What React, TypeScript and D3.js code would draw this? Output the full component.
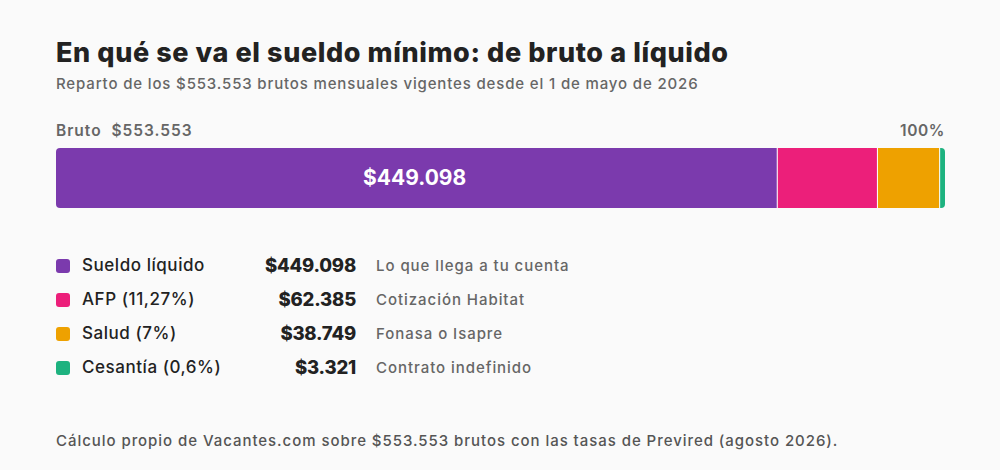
import { useEffect, useRef } from 'react';
import * as d3 from 'd3';

const gross = 553553;
const categories = ['Sueldo líquido', 'AFP (11,27%)', 'Salud (7%)', 'Cesantía (0,6%)'];
const amounts = [449098, 62385, 38749, 3321];
const notes = ['Lo que llega a tu cuenta', 'Cotización Habitat', 'Fonasa o Isapre', 'Contrato indefinido'];
const colors = ['#7B3AAD', '#EC1F7A', '#EEA100', '#1DB27F'];

const fmt = (v: number) => '$' + d3.format(',')(v).replace(/,/g, '.');
const FONT = 'Inter, "Open Sans", sans-serif';

export default function App() {
  const svgRef = useRef<SVGSVGElement>(null);

  useEffect(() => {
    if (!svgRef.current) return;
    const svg = d3.select(svgRef.current);
    svg.selectAll('*').remove();

    const W = 1000;
    const H = 470;
    const left = 56;
    const right = 945;

    svg.append('rect').attr('width', W).attr('height', H).attr('fill', '#FAFAFA');

    // Title + subtitle
    svg.append('text')
      .attr('x', left).attr('y', 62)
      .style('font-family', FONT).style('font-size', '27px').style('font-weight', '800')
      .style('letter-spacing', '0.6px')
      .style('fill', '#222').text('En qué se va el sueldo mínimo: de bruto a líquido');

    svg.append('text')
      .attr('x', left).attr('y', 89)
      .style('font-family', FONT).style('font-size', '15px').style('font-weight', '500')
      .style('letter-spacing', '0.85px')
      .style('fill', '#666').text('Reparto de los $553.553 brutos mensuales vigentes desde el 1 de mayo de 2026');

    // Bar header
    svg.append('text')
      .attr('x', left).attr('y', 136)
      .attr('xml:space', 'preserve')
      .style('font-family', FONT).style('font-size', '15.5px').style('font-weight', '600')
      .style('letter-spacing', '1px')
      .style('fill', '#666').text(`Bruto  ${fmt(gross)}`);

    svg.append('text')
      .attr('x', right).attr('y', 136).attr('text-anchor', 'end')
      .style('font-family', FONT).style('font-size', '15.5px').style('font-weight', '600')
      .style('letter-spacing', '0.6px')
      .style('fill', '#666').text('100%');

    // Stacked bar
    const x = d3.scaleLinear().domain([0, gross]).range([left, right]);
    const starts = d3.cumsum([0, ...amounts.slice(0, -1)]);
    const barY = 148;
    const barH = 60;

    const clipId = 'bar-clip';
    svg.append('clipPath').attr('id', clipId)
      .append('rect')
      .attr('x', left).attr('y', barY).attr('width', right - left).attr('height', barH)
      .attr('rx', 4);

    const g = svg.append('g').attr('clip-path', `url(#${clipId})`);
    g.selectAll('rect.seg')
      .data(amounts)
      .join('rect')
      .attr('class', 'seg')
      .attr('x', (_, i) => x(starts[i]))
      .attr('y', barY)
      .attr('width', (d) => x(d) - x(0))
      .attr('height', barH)
      .attr('fill', (_, i) => colors[i]);

    g.selectAll('line.sep')
      .data(amounts.slice(1))
      .join('line')
      .attr('class', 'sep')
      .attr('x1', (_, i) => x(starts[i + 1]))
      .attr('x2', (_, i) => x(starts[i + 1]))
      .attr('y1', barY).attr('y2', barY + barH)
      .attr('stroke', '#fff').attr('stroke-width', 1);

    svg.append('text')
      .attr('x', (x(0) + x(amounts[0])) / 2 - 2)
      .attr('y', barY + barH / 2 + 1)
      .attr('text-anchor', 'middle').attr('dominant-baseline', 'middle')
      .style('font-family', FONT).style('font-size', '21px').style('font-weight', '700')
      .style('fill', '#fff').text(fmt(amounts[0]));

    // Legend table
    const y = d3.scalePoint<number>().domain(d3.range(categories.length)).range([266, 368]);
    const rows = svg.selectAll('g.row')
      .data(categories)
      .join('g')
      .attr('class', 'row')
      .attr('transform', (_, i) => `translate(0,${y(i)})`);

    rows.append('rect')
      .attr('x', 56).attr('y', -7).attr('width', 14).attr('height', 14).attr('rx', 3)
      .attr('fill', (_, i) => colors[i]);

    rows.append('text')
      .attr('x', 82).attr('y', 0).attr('dominant-baseline', 'middle')
      .style('font-family', FONT).style('font-size', '17px').style('font-weight', '500')
      .style('letter-spacing', '0.55px')
      .style('fill', '#222').text((d) => d);

    rows.append('text')
      .attr('x', 356).attr('y', 1).attr('text-anchor', 'end').attr('dominant-baseline', 'middle')
      .style('font-family', FONT).style('font-size', '18.5px').style('font-weight', '800')
      .style('letter-spacing', '-0.2px')
      .style('fill', '#222').text((_, i) => fmt(amounts[i]));

    rows.append('text')
      .attr('x', 376).attr('y', 1).attr('dominant-baseline', 'middle')
      .style('font-family', FONT).style('font-size', '15px').style('font-weight', '500')
      .style('letter-spacing', '0.95px')
      .style('fill', '#666').text((_, i) => notes[i]);

    // Footer
    svg.append('text')
      .attr('x', left).attr('y', 446)
      .style('font-family', FONT).style('font-size', '15px').style('font-weight', '500')
      .style('letter-spacing', '0.95px')
      .style('fill', '#555')
      .text('Cálculo propio de Vacantes.com sobre $553.553 brutos con las tasas de Previred (agosto 2026).');
  }, []);

  return (
    <div style={{ position: 'absolute', left: 0, top: 0 }}>
      <svg ref={svgRef} width={1000} height={470} style={{ display: 'block' }} />
    </div>
  );
}
